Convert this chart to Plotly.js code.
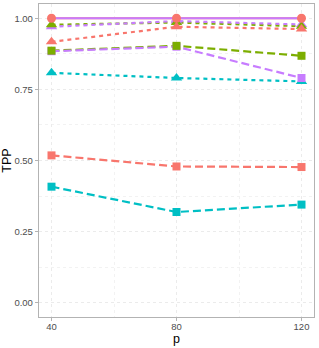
<!DOCTYPE html>
<html>
<head>
<meta charset="utf-8">
<script src="https://cdn.plot.ly/plotly-3.0.1.min.js"></script>
<style>html,body{margin:0;padding:0;background:#fff;}#chart{width:319px;height:348px;}</style>
</head>
<body>
<div id="chart"></div>
<script>
const p = [40, 80, 120];
const redCircle = [1.0, 1.0, 1.0];
const purpleSolid = [1.0, 1.0, 1.0];
const greenTri = [0.977, 0.985, 0.972];
const purpleTri = [0.970, 0.990, 0.978];
const redTri = [0.917, 0.970, 0.962];
const greenSq = [0.886, 0.903, 0.868];
const purpleSq = [0.884, 0.900, 0.790];
const tealTri = [0.808, 0.790, 0.778];
const redSq = [0.518, 0.479, 0.477];
const tealSq = [0.408, 0.319, 0.345];
const xTicks = [40, 80, 120];
const yTicks = [0, 0.25, 0.5, 0.75, 1.0];
const yTickText = ["0.00", "0.25", "0.50", "0.75", "1.00"];

const RED = "#F8766D", GREEN = "#7CAE00", TEAL = "#00BFC4", PURPLE = "#C77CFF";
const DASHED = "8px,4px", DOTTED = "4px,4px";

function line(y, color, dash) {
  return {x: p, y: y, mode: "lines", type: "scatter", hoverinfo: "skip",
          line: {color: color, width: 2.2, dash: dash}, showlegend: false};
}
function pts(y, color, symbol, size) {
  return {x: p, y: y, mode: "markers", type: "scatter", hoverinfo: "skip",
          marker: {color: color, symbol: symbol, size: size, line: {width: 0}}, showlegend: false};
}

const traces = [
  line(redCircle, RED, "solid"),
  line(redTri, RED, DOTTED),
  line(redSq, RED, DASHED),
  line(greenTri, GREEN, DOTTED),
  line(greenSq, GREEN, DASHED),
  line(tealTri, TEAL, DOTTED),
  line(tealSq, TEAL, DASHED),
  line(purpleTri, PURPLE, DOTTED),
  line(purpleSq, PURPLE, DASHED),
  line(purpleSolid, PURPLE, "solid"),
  pts(tealTri, TEAL, "triangle-up", 10),
  pts(tealSq, TEAL, "square", 8),
  pts(purpleTri, PURPLE, "triangle-up", 10),
  pts(purpleSq, PURPLE, "square", 8),
  pts(greenTri, GREEN, "triangle-up", 10),
  pts(greenSq, GREEN, "square", 8),
  pts(redTri, RED, "triangle-up", 10),
  pts(redSq, RED, "square", 8),
  pts(redCircle, RED, "circle", 9)
];

const tickFont = {family: "Liberation Sans, Arial, sans-serif", size: 9.5, color: "#4D4D4D"};
const titleFont = {family: "Liberation Sans, Arial, sans-serif", size: 12.5, color: "#000"};

const layout = {
  width: 319, height: 348,
  margin: {l: 39, r: 5, t: 4, b: 31},
  paper_bgcolor: "#fff", plot_bgcolor: "#fff",
  showlegend: false,
  xaxis: {
    range: [36, 124], tickvals: xTicks, ticktext: xTicks.map(String),
    showgrid: true, gridcolor: "#EBEBEB", gridwidth: 1, griddash: "dot",
    minor: {tickvals: [60, 100], showgrid: true, gridcolor: "#F2F2F2", gridwidth: 1, ticks: ""},
    zeroline: false, showline: true, mirror: true, linecolor: "#B3B3B3", linewidth: 1.2,
    ticks: "outside", ticklen: 3, tickcolor: "#B3B3B3", tickwidth: 1,
    tickfont: tickFont, ticklabelstandoff: -3,
    title: {text: "p", font: titleFont, standoff: 0}
  },
  yaxis: {
    range: [-0.05, 1.05], tickvals: yTicks, ticktext: yTickText,
    showgrid: true, gridcolor: "#EBEBEB", gridwidth: 1, griddash: "dot",
    minor: {tickvals: [0.125, 0.375, 0.625, 0.875], showgrid: true, gridcolor: "#F2F2F2", gridwidth: 1, ticks: ""},
    zeroline: false, showline: true, mirror: true, linecolor: "#B3B3B3", linewidth: 1.2,
    ticks: "outside", ticklen: 3, tickcolor: "#B3B3B3", tickwidth: 1,
    tickfont: tickFont,
    title: {text: "TPP", font: titleFont, standoff: 2}
  }
};

Plotly.newPlot("chart", traces, layout, {staticPlot: true, displayModeBar: false});
</script>
</body>
</html>
